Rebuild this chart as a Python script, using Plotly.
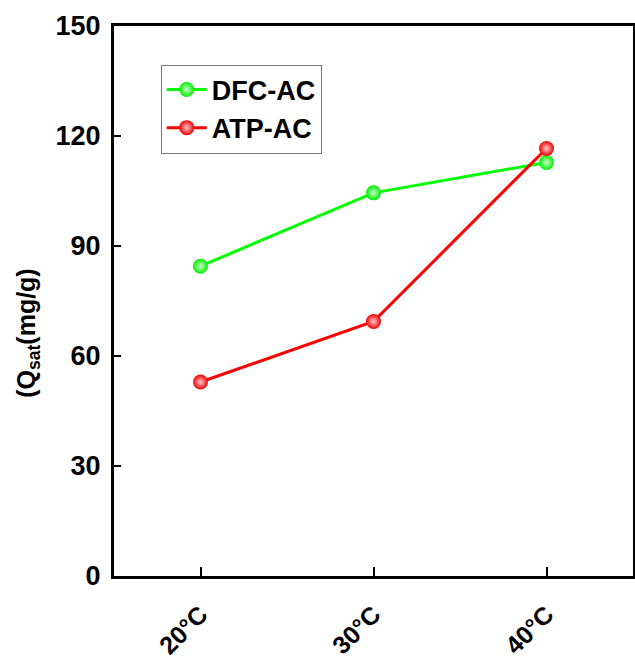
import plotly.graph_objects as go

categories = ["20°C", "30°C", "40°C"]
dfc_values = [84.5, 104.5, 112.8]
atp_values = [52.9, 69.4, 116.6]
y_ticks = [0, 30, 60, 90, 120, 150]

sans = "Liberation Sans, Arial"

fig = go.Figure()
fig.add_trace(go.Scatter(
    x=[0, 1, 2], y=dfc_values, name="DFC-AC", mode="lines+markers",
    line=dict(color="#00ff00", width=3),
    marker=dict(size=15, color="#00ee00", symbol="circle",
                gradient=dict(type="radial", color="#c8ffc8"),
                line=dict(width=0)),
))
fig.add_trace(go.Scatter(
    x=[0, 1, 2], y=atp_values, name="ATP-AC", mode="lines+markers",
    line=dict(color="#ff0000", width=3),
    marker=dict(size=15, color="#ee0000", symbol="circle",
                gradient=dict(type="radial", color="#ffc8c8"),
                line=dict(width=0)),
))

fig.add_annotation(
    text="(Q<sub>sat</sub>(mg/g)", textangle=-90,
    xref="paper", yref="paper", x=-0.166, y=0.442,
    xanchor="center", yanchor="middle", showarrow=False,
    font=dict(family=sans, size=25, color="black", weight="bold"),
)

fig.update_layout(
    width=635, height=663,
    margin=dict(l=114, r=2, t=26, b=87, autoexpand=False),
    paper_bgcolor="white", plot_bgcolor="white",
    showlegend=True,
    legend=dict(
        x=0.09, y=0.93, xanchor="left", yanchor="top",
        bgcolor="white", bordercolor="#777777", borderwidth=1,
        font=dict(family=sans, size=27, color="black", weight="bold"),
        tracegroupgap=0, itemwidth=40,
    ),
    xaxis=dict(
        range=[-0.5, 2.5], tickmode="array", tickvals=[0, 1, 2], ticktext=categories,
        ticks="inside", ticklen=9, tickwidth=2, tickcolor="black",
        showline=True, linecolor="black", linewidth=3, mirror=True,
        showgrid=False, zeroline=False, tickangle=-45, automargin=False,
        ticklabelstandoff=11,
        tickfont=dict(family=sans, size=25, color="black", weight="bold"),
    ),
    yaxis=dict(
        range=[0, 150], tickmode="array", tickvals=y_ticks,
        ticks="inside", ticklen=7, tickwidth=2, tickcolor="black",
        showline=True, linecolor="black", linewidth=3, mirror=True,
        showgrid=False, zeroline=False, automargin=False,
        ticklabelstandoff=5,
        tickfont=dict(family=sans, size=27, color="black", weight="bold"),
    ),
)

fig.write_html(
    "out.html",
    config={"displayModeBar": False},
    post_script="document.body.style.margin='0';document.body.style.overflow='hidden';",
)
